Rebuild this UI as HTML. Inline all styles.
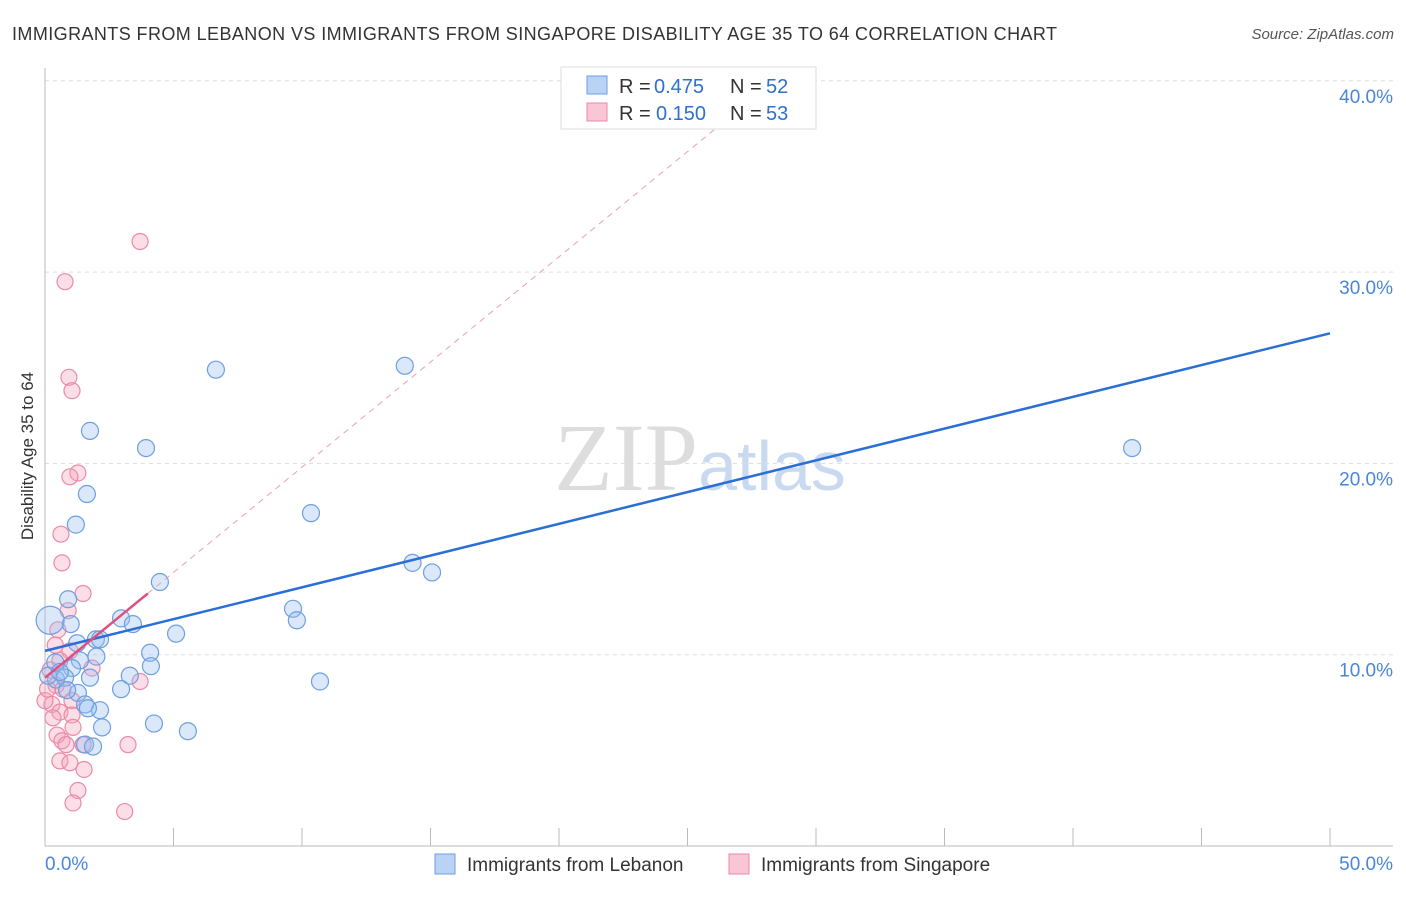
<!DOCTYPE html>
<html><head><meta charset="utf-8"><style>
body{margin:0;background:#fff;font-family:"Liberation Sans",sans-serif;}
</style></head><body>
<svg id="c" width="1406" height="892" xmlns="http://www.w3.org/2000/svg">
<text x="12" y="40" font-size="18" fill="#333" textLength="1045">IMMIGRANTS FROM LEBANON VS IMMIGRANTS FROM SINGAPORE DISABILITY AGE 35 TO 64 CORRELATION CHART</text>
<text x="1394" y="39" font-size="15" fill="#555" font-style="italic" text-anchor="end">Source: ZipAtlas.com</text>
<text x="700" y="490" font-size="96" fill="#ddd" text-anchor="middle" font-family="Liberation Serif">ZIP<tspan fill="#c9daf0" font-family="Liberation Sans" font-size="70">atlas</tspan></text>
<text transform="translate(33,456) rotate(-90)" font-size="17" fill="#333" text-anchor="middle">Disability Age 35 to 64</text>
<g id="grid"></g><g id="axes"></g><g id="pts"></g><g id="lines"></g>
<g>
<rect x="561" y="67" width="255" height="62" fill="#fff" stroke="#ddd"/>
<rect x="587" y="76" width="20" height="18" fill="#b9d3f5" stroke="#6d9fe0"/>
<rect x="587" y="103" width="20" height="18" fill="#f9c6d5" stroke="#ea8aa8"/>
<text x="619" y="93" font-size="20" fill="#333">R =</text><text x="654" y="93" font-size="20" fill="#2f6fd0">0.475</text>
<text x="730" y="93" font-size="20" fill="#333">N =</text><text x="766" y="93" font-size="20" fill="#2f6fd0">52</text>
<text x="619" y="120" font-size="20" fill="#333">R =</text><text x="656" y="120" font-size="20" fill="#2f6fd0">0.150</text>
<text x="730" y="120" font-size="20" fill="#333">N =</text><text x="766" y="120" font-size="20" fill="#2f6fd0">53</text>
</g>
<g>
<rect x="435" y="854" width="20" height="20" fill="#b9d3f5" stroke="#6d9fe0"/>
<text x="467" y="871" font-size="19" fill="#333">Immigrants from Lebanon</text>
<rect x="729" y="854" width="20" height="20" fill="#f9c6d5" stroke="#ea8aa8"/>
<text x="761" y="871" font-size="19" fill="#333">Immigrants from Singapore</text>
</g>
</svg>
<script>
const xTicks=[0,5,10,15,20,25,30,35,40,45,50];
const yTicks=[10,20,30,40];
const yTickLabels=["10.0%","20.0%","30.0%","40.0%"];
const xEndLabels=["0.0%","50.0%"];
const lebX=[6.65,14.0,42.3,1.75,3.93,1.63,10.35,1.2,14.3,15.06,4.47,0.9,9.65,9.8,2.96,3.42,1.0,5.1,1.98,2.14,1.25,4.09,2.0,4.12,1.36,0.4,1.05,3.3,1.75,10.7,0.43,0.78,0.12,0.58,2.96,1.28,0.86,1.56,2.14,1.67,4.24,2.22,5.56,1.56,1.87,0.2];
const lebY=[24.9,25.1,20.8,21.7,20.8,18.4,17.4,16.8,14.8,14.3,13.8,12.9,12.4,11.8,11.9,11.6,11.6,11.1,10.8,10.8,10.6,10.1,9.9,9.4,9.7,9.6,9.3,8.9,8.8,8.6,8.7,8.8,8.9,9.1,8.2,8.0,8.15,7.4,7.1,7.2,6.4,6.2,6.0,5.3,5.2,11.8];
const sinX=[3.7,0.78,0.93,1.05,1.28,0.97,0.62,0.66,1.48,0.9,0.5,0.4,0.97,0.58,1.83,0.2,0.43,3.7,0.7,1.05,0.27,0.58,0.31,1.05,1.09,0.47,0.66,0.82,1.48,3.23,0.58,0.97,1.52,1.28,1.09,3.1,0,0.1];
const sinY=[31.6,29.5,24.5,23.8,19.5,19.3,16.3,14.8,13.2,12.3,11.3,10.5,10.2,9.7,9.3,9.2,8.4,8.6,8.2,7.6,7.4,7.0,6.7,6.85,6.2,5.8,5.5,5.3,5.3,5.3,4.45,4.35,4.0,2.9,2.25,1.8,7.6,8.2];
const lebTrend=[10.2,26.8];
const sinTrend=[8.8,1.1];
const X=v=>45+v*25.7, Y=v=>846-v*19.13;
const NS="http://www.w3.org/2000/svg";
function mk(t,a,p){const e=document.createElementNS(NS,t);for(const k in a)e.setAttribute(k,a[k]);document.getElementById(p).appendChild(e);return e;}
yTicks.forEach((t,i)=>{
 const g=mk('line',{x1:45,x2:1393,y1:Y(t),y2:Y(t),stroke:'#ddd','stroke-dasharray':'4,4'},'grid');
 
 
 const l=mk('text',{x:1393,y:Y(t)+22,'font-size':19,fill:'#4a86d8','text-anchor':'end'},'axes');
 l.textContent=yTickLabels[i];
 
 
});
const ax=mk('line',{x1:45,x2:1393,y1:846,y2:846,stroke:'#bbb'},'axes');


const ay=mk('line',{x1:45,x2:45,y1:68,y2:846,stroke:'#bbb'},'axes');


xTicks.forEach(t=>{const e=mk('line',{x1:X(t),x2:X(t),y1:828,y2:846,stroke:'#bbb'},'axes');
 
 });
const l0=mk('text',{x:45,y:870,'font-size':19,fill:'#4a86d8'},'axes');l0.textContent=xEndLabels[0];


const l1=mk('text',{x:1393,y:870,'font-size':19,fill:'#4a86d8','text-anchor':'end'},'axes');l1.textContent=xEndLabels[1];


sinX.forEach((v,i)=>{const c=mk('circle',{cx:X(v),cy:Y(sinY[i]),r:8,fill:'rgba(245,160,185,0.35)',stroke:'#ea8aa8','stroke-width':1.2},'pts');
 
 });
lebX.forEach((v,i)=>{const c=mk('circle',{cx:X(v),cy:Y(lebY[i]),r:i==lebX.length-1?14:8.5,fill:'rgba(150,190,240,0.35)',stroke:'#6d9fe0','stroke-width':1.2},'pts');
 
 });
const bl=mk('line',{x1:X(0),y1:Y(lebTrend[0]),x2:X(50),y2:Y(lebTrend[1]),stroke:'#2a6fd6','stroke-width':2.5},'lines');


const xe=(40.7-sinTrend[0])/sinTrend[1];
const pd=mk('line',{x1:X(4),y1:Y(sinTrend[0]+4*sinTrend[1]),x2:X(xe),y2:Y(40.7),stroke:'#e8a0b5','stroke-width':1,'stroke-dasharray':'6,5'},'lines');


const ps=mk('line',{x1:X(0),y1:Y(sinTrend[0]),x2:X(4),y2:Y(sinTrend[0]+4*sinTrend[1]),stroke:'#e0507e','stroke-width':2.5},'lines');


</script>
</body></html>
